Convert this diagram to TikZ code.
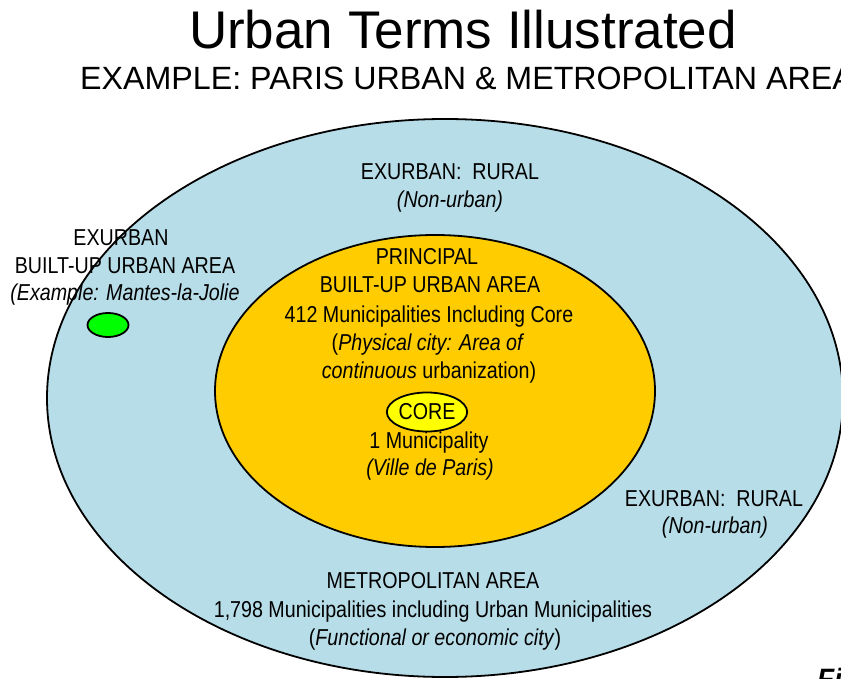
\documentclass[tikz,border=0pt]{standalone}
\usepackage{fontspec}
\setmainfont{Liberation Sans}
\newfontfamily\narrowfont{Liberation Sans}[FakeStretch=0.855]
\usetikzlibrary{shapes.geometric}
\definecolor{metroblue}{RGB}{183,221,232}
\definecolor{urbanorange}{RGB}{255,204,0}
\definecolor{coreyellow}{RGB}{255,255,0}
\definecolor{exgreen}{RGB}{0,255,0}
\begin{document}
\begin{tikzpicture}[x=1pt,y=-1pt,
  zone/.style={ellipse,draw=black,line width=1.8pt,inner sep=0pt},
  lbl/.style={anchor=base,inner sep=0pt,font=\narrowfont\fontsize{23}{28}\selectfont},
]
\useasboundingbox (0,0) rectangle (841,679);
\fill[white] (0,0) rectangle (841,679);

% zones
\node[zone,fill=metroblue,minimum width=796pt,minimum height=558pt] (metro) at (445,398) {};
\node[zone,fill=urbanorange,minimum width=440pt,minimum height=312pt] (urban) at (435,391) {};
\node[zone,fill=exgreen,minimum width=41pt,minimum height=24pt] (exurb) at (108,325) {};
\node[zone,fill=coreyellow,minimum width=65pt,minimum height=39pt,font=\narrowfont\fontsize{23}{28}\selectfont] (core) at (427,412) {CORE};

% title
\node[anchor=base,inner sep=0pt,font=\fontsize{53}{60}\selectfont] (title) at (463,49) {Urban Terms Illustrated};
\node[anchor=base west,inner sep=0pt,font=\fontsize{32.2}{36}\selectfont] (subtitle) at (80,90) {EXAMPLE: PARIS URBAN \& METROPOLITAN AREA};

% exurban rural (top)
\node[lbl] (rt1) at (450,180) {EXURBAN:~~RURAL};
\node[lbl] (rt2) at (450,208) {\itshape (Non-urban)};

% exurban built-up
\node[lbl] (ex1) at (121,246) {EXURBAN};
\node[lbl] (ex2) at (125,273) {BUILT-UP URBAN AREA};
\node[lbl] (ex3) at (125,301) {\itshape (Example: Mantes-la-Jolie};

% principal built-up urban area
\node[lbl] (pr1) at (427,265) {PRINCIPAL};
\node[lbl] (pr2) at (430,293) {BUILT-UP URBAN AREA};
\node[lbl] (pr3) at (429,322) {412 Municipalities Including Core};
\node[lbl] (pr4) at (428,350) {(\textit{Physical city: Area of}};
\node[lbl] (pr5) at (429,378) {\textit{continuous} urbanization)};

% core
\node[lbl] (co1) at (429,448) {1 Municipality};
\node[lbl] (co2) at (430,475) {\itshape (Ville de Paris)};

% exurban rural (right)
\node[lbl] (rr1) at (714,506) {EXURBAN:~~RURAL};
\node[lbl] (rr2) at (715,533) {\itshape (Non-urban)};

% metropolitan area
\node[lbl] (me1) at (433,588) {METROPOLITAN AREA};
\node[lbl] (me2) at (433,617) {1,798 Municipalities including Urban Municipalities};
\node[lbl] (me3) at (435,645) {(\textit{Functional or economic city})};

% cut-off figure caption, as in the reference
\node[anchor=base west,inner sep=0pt,font=\bfseries\itshape\fontsize{28}{32}\selectfont] (fig) at (817,688) {Fi};
\end{tikzpicture}
\end{document}
